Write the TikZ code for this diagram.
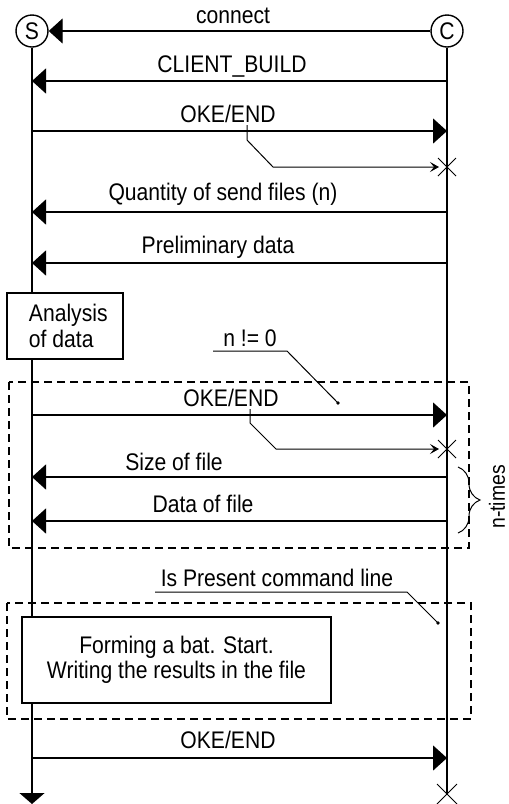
\documentclass[tikz,border=0pt]{standalone}
\usepackage{fontspec}
\setmainfont[FakeStretch=0.88]{Liberation Sans}
\usetikzlibrary{arrows.meta,decorations.pathreplacing}

\begin{document}
\begin{tikzpicture}[x=1pt,y=-1pt,line width=1.4pt,
  txt/.style={font=\fontsize{24}{26}\selectfont},
  lbl/.style={txt,inner sep=0pt,anchor=base},
  actor/.style={txt,circle,draw,minimum size=32pt,inner sep=0pt},
  procbox/.style={txt,draw,fill=white,inner sep=0pt},
  msg/.style={-{Triangle[length=14pt,width=25pt]}},
  note/.style={line width=1pt},
  notearrow/.style={note,-{Stealth[length=9pt,width=10pt,inset=4pt]}},
  loopbox/.style={line width=1.3pt,dash pattern=on 8pt off 5pt},
  endmark/.style={line width=1pt},
]
\useasboundingbox (0,0) rectangle (509,804);

% participants
\node[actor] (S) at (32,31) {S};
\node[actor] (C) at (447,31) {C};

% lifeline ends
\coordinate (Send) at (32,804);
\coordinate (Cend) at (447,794);

% lifelines
\draw[-{Triangle[length=11pt,width=25pt]}] (S.south) -- (Send);
\draw (C.south) -- (Cend);

% connect
\node[lbl] (tconnect) at (233,23) {connect};
\draw[msg] (C.west) -- (S.east);

% CLIENT_BUILD
\coordinate (s1) at (32,81);  \coordinate (c1) at (447,81);
\node[lbl] (tbuild) at (232,72) {CLIENT\_BUILD};
\draw[msg] (c1) -- (s1);

% OKE/END (1)
\coordinate (s2) at (32,131); \coordinate (c2) at (447,131);
\node[lbl] (toke1) at (228,122) {OKE/END};
\draw[msg] (s2) -- (c2);
\coordinate (k1a) at (247,125); \coordinate (k1b) at (247,140);
\coordinate (k1c) at (273,167); \coordinate (x1) at (447,167);
\coordinate (k1d) at (439,167);
\draw[notearrow] (k1a) -- (k1b) -- (k1c) -- (k1d);
\draw[endmark] ([shift={(-9,-9)}]x1) -- ([shift={(9,9)}]x1)
               ([shift={(-9,9)}]x1) -- ([shift={(9,-9)}]x1);

% Quantity of send files
\coordinate (s3) at (32,212); \coordinate (c3) at (447,212);
\node[lbl] (tqty) at (223,200) {Quantity of send files (n)};
\draw[msg] (c3) -- (s3);

% Preliminary data
\coordinate (s4) at (32,263); \coordinate (c4) at (447,263);
\node[lbl] (tpre) at (218,253) {Preliminary data};
\draw[msg] (c4) -- (s4);

% analysis on the server side
\node[procbox,minimum width=116pt,minimum height=66pt,align=left,
      text depth=0pt,font=\fontsize{24}{26}\selectfont] (ana) at (65,326)
      {\kern6.6pt Analysis\\\kern6.6pt of data};

% loop over the files
\draw[loopbox] (9,382) rectangle (469,548);
\node[lbl] (tcond) at (250,346) {n != 0};
\coordinate (n1a) at (213,351); \coordinate (n1b) at (287,351);
\coordinate (n1c) at (338,403);
\draw[note] (n1a) -- (n1b) -- (n1c);
\fill (n1c) circle (1.8pt);

% OKE/END (2)
\coordinate (s5) at (32,415); \coordinate (c5) at (447,415);
\node[lbl] (toke2) at (231,406) {OKE/END};
\draw[msg] (s5) -- (c5);
\coordinate (k2a) at (250,409); \coordinate (k2b) at (250,423);
\coordinate (k2c) at (276,449); \coordinate (x2) at (447,449);
\coordinate (k2d) at (439,449);
\draw[notearrow] (k2a) -- (k2b) -- (k2c) -- (k2d);
\draw[endmark] ([shift={(-9,-9)}]x2) -- ([shift={(9,9)}]x2)
               ([shift={(-9,9)}]x2) -- ([shift={(9,-9)}]x2);

% Size of file
\coordinate (s6) at (32,477); \coordinate (c6) at (447,477);
\node[lbl] (tsize) at (174,470) {Size of file};
\draw[msg] (c6) -- (s6);

% Data of file
\coordinate (s7) at (32,521); \coordinate (c7) at (447,521);
\node[lbl] (tdata) at (203,512) {Data of file};
\draw[msg] (c7) -- (s7);

% repetition brace
\coordinate (b1) at (458,467); \coordinate (b2) at (458,533);
\draw[note,decorate,decoration={brace,amplitude=22pt,aspect=0.5}] (b1) -- (b2);
\node[font=\fontsize{22}{24}\selectfont,rotate=90,inner sep=0pt] (tn) at (497,497) {n-times};

% optional block
\draw[loopbox] (7,603) rectangle (471,719);
\node[lbl] (tcmd) at (277,586) {Is Present command line};
\coordinate (p1a) at (155,592); \coordinate (p1b) at (407,592);
\coordinate (p1c) at (438,623);
\draw[note] (p1a) -- (p1b) -- (p1c);
\fill (p1c) circle (1.8pt);

\node[procbox,minimum width=309pt,minimum height=86pt,align=center,
      font=\fontsize{24}{25}\selectfont]
  (form) at (176.5,660) {Forming a bat. Start.\\Writing the results in the file};

% OKE/END (3)
\coordinate (s8) at (32,758); \coordinate (c8) at (447,758);
\node[lbl] (toke3) at (228,748) {OKE/END};
\draw[msg] (s8) -- (c8);

% client termination
\draw[endmark] ([shift={(-10,-10)}]Cend) -- ([shift={(10,10)}]Cend)
               ([shift={(-10,10)}]Cend) -- ([shift={(10,-10)}]Cend);
\end{tikzpicture}
\end{document}
